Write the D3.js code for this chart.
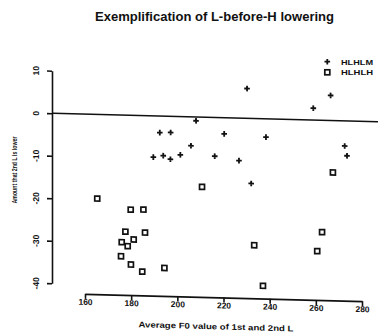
<!DOCTYPE html>
<html>
<head>
<meta charset="utf-8">
<script src="https://cdn.jsdelivr.net/npm/d3@7"></script>
<style>
  body { margin: 0; background: #fff; }
  svg { display: block; font-family: "Liberation Sans", Arial, sans-serif; }
</style>
</head>
<body>
<div id="chart"></div>
<script>
// values
const hlhlmX = [208.1, 192.4, 197.1, 205.9, 189.6, 193.9, 197.0, 201.3, 230.2, 220.3, 238.4, 216.2, 226.7, 232.0, 266.4, 258.9, 272.5, 273.5];
const hlhlmY = [-0.9, -3.9, -3.8, -6.8, -9.7, -9.3, -10.1, -9.0, 7.0, -3.8, -4.3, -9.1, -10.0, -15.3, 5.9, 2.8, -5.9, -8.2];

const hlhlhX = [165.3, 179.8, 185.3, 177.5, 186.0, 181.1, 175.9, 178.5, 175.6, 179.9, 184.8, 194.4, 210.7, 233.3, 237.1, 262.7, 260.6, 267.4];
const hlhlhY = [-19.8, -22.2, -22.1, -27.4, -27.5, -29.2, -29.9, -30.8, -33.2, -35.1, -36.7, -35.7, -16.4, -29.8, -39.3, -26.3, -30.8, -12.2];

const xTicks = [160, 180, 200, 220, 240, 260, 280];
const yTicks = [-40, -30, -20, -10, 0, 10];
const seriesNames = ["HLHLM", "HLHLH"];

const W = 378, H = 334;
const svg = d3.select("#chart").append("svg")
    .attr("width", W)
    .attr("height", H);

const x = d3.scaleLinear().domain([160, 280]).range([85, 362]);
const y = d3.scaleLinear().domain([-40, 10]).range([283.3, 70.7]);

// the scan is slightly sheared, so the plot area is skewed a bit
const g = svg.append("g")
    .attr("transform", "translate(52,0) skewY(1.5) translate(-52,0)");

// y axis
const yAxis = g.append("g")
    .attr("transform", "translate(52,0)")
    .call(d3.axisLeft(y).tickValues(yTicks).tickSize(5).tickSizeOuter(0).tickFormat(d => String(d)));
yAxis.selectAll("text")
    .attr("transform", "rotate(-90)")
    .attr("x", 0)
    .attr("y", -13)
    .attr("dy", 0)
    .style("text-anchor", "middle")
    .style("font-size", "8.5px")
    .style("font-weight", "bold")
    .attr("fill", "#111");

// x axis
const xAxis = g.append("g")
    .attr("transform", "translate(0,293)")
    .call(d3.axisBottom(x).tickValues(xTicks).tickSize(5).tickSizeOuter(0).tickFormat(d => String(d)));
xAxis.selectAll("text")
    .attr("y", 11)
    .attr("dy", 0)
    .style("font-size", "8.5px")
    .style("font-weight", "bold")
    .attr("fill", "#111");

g.selectAll(".domain, .tick line")
    .attr("stroke", "#111")
    .attr("stroke-width", 1.6);

// reference line at zero
g.append("line")
    .attr("x1", 53)
    .attr("x2", W)
    .attr("y1", y(0))
    .attr("y2", y(0))
    .attr("stroke", "#111")
    .attr("stroke-width", 1.6);

// HLHLH squares
g.selectAll(".sq")
    .data(hlhlhX.map((v, i) => [v, hlhlhY[i]]))
    .enter().append("rect")
    .attr("class", "sq")
    .attr("x", d => x(d[0]) - 2.5)
    .attr("y", d => y(d[1]) - 2.5)
    .attr("width", 5)
    .attr("height", 5)
    .attr("fill", "none")
    .attr("stroke", "#111")
    .attr("stroke-width", 1.7);

// HLHLM pluses
const plus = "M-2.8,0H2.8M0,-2.8V2.8";
g.selectAll(".pl")
    .data(hlhlmX.map((v, i) => [v, hlhlmY[i]]))
    .enter().append("path")
    .attr("class", "pl")
    .attr("d", plus)
    .attr("transform", d => "translate(" + x(d[0]) + "," + y(d[1]) + ")")
    .attr("stroke", "#111")
    .attr("stroke-width", 1.8);

// x axis title
g.append("text")
    .attr("x", 216)
    .attr("y", 325)
    .attr("text-anchor", "middle")
    .attr("textLength", 155)
    .attr("lengthAdjust", "spacingAndGlyphs")
    .style("font-size", "8px")
    .style("font-weight", "bold")
    .attr("fill", "#111")
    .text("Average F0 value of 1st and 2nd L");

// y axis title
svg.append("text")
    .attr("transform", "translate(17,170) rotate(-90)")
    .attr("text-anchor", "middle")
    .attr("textLength", 67)
    .attr("lengthAdjust", "spacingAndGlyphs")
    .style("font-size", "6.5px")
    .style("font-weight", "bold")
    .attr("fill", "#111")
    .text("Amount that 2nd L is lower");

// chart title
svg.append("text")
    .attr("x", 214.5)
    .attr("y", 21)
    .attr("text-anchor", "middle")
    .attr("textLength", 239)
    .attr("lengthAdjust", "spacingAndGlyphs")
    .style("font-size", "12px")
    .style("font-weight", "bold")
    .attr("fill", "#111")
    .text("Exemplification of L-before-H lowering");

// legend
const legend = svg.append("g");
legend.append("path")
    .attr("d", plus)
    .attr("transform", "translate(327.3,61.7)")
    .attr("stroke", "#111")
    .attr("stroke-width", 1.8);
legend.append("rect")
    .attr("x", 324.8)
    .attr("y", 69.8)
    .attr("width", 5)
    .attr("height", 5)
    .attr("fill", "none")
    .attr("stroke", "#111")
    .attr("stroke-width", 1.7);
legend.selectAll(".lt")
    .data(seriesNames)
    .enter().append("text")
    .attr("class", "lt")
    .attr("x", 341)
    .attr("y", (d, i) => 64.5 + i * 10.5)
    .attr("textLength", 32)
    .attr("lengthAdjust", "spacingAndGlyphs")
    .style("font-size", "7.5px")
    .style("font-weight", "bold")
    .attr("fill", "#111")
    .text(d => d);
</script>
</body>
</html>
